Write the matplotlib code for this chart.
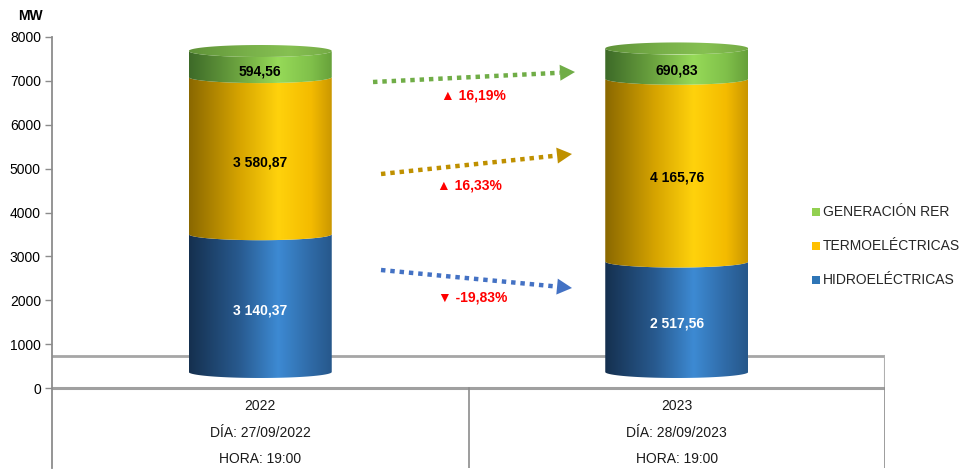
import numpy as np
import matplotlib
matplotlib.use("Agg")
import matplotlib.pyplot as plt
from matplotlib.path import Path
from matplotlib.patches import PathPatch, Polygon
from matplotlib.colors import LinearSegmentedColormap

plt.rcParams['font.family'] = ['Liberation Sans', 'DejaVu Sans']

# ---------------- data ----------------
years = ["2022", "2023"]
dias = ["DÍA: 27/09/2022", "DÍA: 28/09/2023"]
horas = ["HORA: 19:00", "HORA: 19:00"]
series_names = ["HIDROELÉCTRICAS", "TERMOELÉCTRICAS", "GENERACIÓN RER"]
hidro = [3140.37, 2517.56]
termo = [3580.87, 4165.76]
rer = [594.56, 690.83]
value_labels = [["3 140,37", "2 517,56"], ["3 580,87", "4 165,76"], ["594,56", "690,83"]]
pct_labels = ["▼ -19,83%", "▲ 16,33%", "▲ 16,19%"]
yticks = [0, 1000, 2000, 3000, 4000, 5000, 6000, 7000, 8000]

# ---------------- style ----------------
W, H = 969, 470
fig = plt.figure(figsize=(W / 100, H / 100), dpi=100)
ax_l, ax_r, ax_t, ax_b = 52, 885, 37, 468
ax = fig.add_axes([ax_l / W, 1 - ax_b / H, (ax_r - ax_l) / W, (ax_b - ax_t) / H])
px_per_unit = (388 - 37) / 8000.0
ymin = -(ax_b - 388) / px_per_unit
ax.set_xlim(0, 2)
ax.set_ylim(ymin, 8000)

grad = {
    0: [(0.0, "#15304f"), (0.35, "#285a8f"), (0.62, "#3d8ad3"), (0.85, "#2f6aa6"), (1.0, "#26578a")],
    1: [(0.0, "#8a6800"), (0.35, "#d6a400"), (0.62, "#ffd20c"), (0.85, "#f4bb00"), (1.0, "#c99600")],
    2: [(0.0, "#3d6a28"), (0.35, "#6da540"), (0.62, "#96da58"), (0.85, "#80c04a"), (1.0, "#66a03a")],
}
top_grad = [(0.0, "#5f9238"), (0.4, "#78b049"), (0.7, "#86c052"), (1.0, "#74aa45")]
legend_colors = ["#2e75b6", "#ffc000", "#92d050"]
label_colors = ["white", "black", "black"]

depth = 365.0           # bar base raised inside floor
eh = 6.0 / px_per_unit  # ellipse half height in data units
bar_w = 143 / (ax_r - ax_l) * 2
centers = [0.5, 1.5]

# floor
ax.fill_between([0, 2], 0, 730, color="white", zorder=1)
ax.plot([0, 2], [730, 730], color="#a6a6a6", lw=2.0, zorder=1.5)
ax.plot([2, 2], [0, 730], color="#b0b0b0", lw=1.5, zorder=1.5)
ax.plot([0, 2], [0, 0], color="#a0a0a0", lw=2.2, zorder=1.5)
# category dividers
ax.plot([1, 1], [ymin, 0], color="#8c8c8c", lw=1.2, zorder=1.5)
ax.plot([2, 2], [ymin, 0], color="#8c8c8c", lw=1.2, zorder=1.5)

def seg_path(xc, y0, y1):
    t = np.linspace(0, np.pi, 80)
    xs = xc - bar_w / 2 * np.cos(t)
    top = y1 - eh * np.sin(t)
    bot = y0 - eh * np.sin(t)
    verts = np.concatenate([np.column_stack([xs, top]), np.column_stack([xs[::-1], bot[::-1]]), [[xs[0], top[0]]]])
    return Path(verts, closed=True)

def ellipse_path(xc, yc):
    t = np.linspace(0, 2 * np.pi, 120)
    return Path(np.column_stack([xc + bar_w / 2 * np.cos(t), yc + eh * np.sin(t)]), closed=True)

ramp = np.linspace(0, 1, 256).reshape(1, -1)
stack = [hidro, termo, rer]
for i, xc in enumerate(centers):
    base = depth
    for k, vals in enumerate(stack):
        v = vals[i]
        y0, y1 = base, base + v
        patch = PathPatch(seg_path(xc, y0, y1), facecolor="none", edgecolor="none", zorder=3)
        ax.add_patch(patch)
        cmap = LinearSegmentedColormap.from_list("g%d" % k, grad[k])
        im = ax.imshow(ramp, cmap=cmap, aspect="auto",
                       extent=[xc - bar_w / 2, xc + bar_w / 2, y0 - eh * 1.1, y1 + eh],
                       zorder=3, interpolation="bilinear")
        im.set_clip_path(patch)
        ax.text(xc, (y0 + y1) / 2 - 1.2 * eh, value_labels[k][i], ha="center", va="center",
                fontsize=10, fontweight="bold", color=label_colors[k], zorder=5)
        base = y1
    # top face
    epatch = PathPatch(ellipse_path(xc, base), facecolor="none", edgecolor="none", zorder=4)
    ax.add_patch(epatch)
    cmap_top = LinearSegmentedColormap.from_list("top", top_grad)
    im = ax.imshow(ramp, cmap=cmap_top, aspect="auto",
                   extent=[xc - bar_w / 2, xc + bar_w / 2, base - eh, base + eh], zorder=4)
    im.set_clip_path(epatch)

ax.set_xlim(0, 2)
ax.set_ylim(ymin, 8000)

# axes styling
for s in ["top", "right", "bottom"]:
    ax.spines[s].set_visible(False)
ax.spines["left"].set_color("#8c8c8c")
ax.spines["left"].set_linewidth(1.3)
ax.set_xticks([])
ax.set_yticks(yticks)
ax.set_yticklabels([str(t) for t in yticks])
ax.tick_params(axis="y", direction="out", length=5, width=1, color="#8c8c8c", labelsize=10, pad=3)

fig.text(18 / W, 1 - 16 / H, "MW", fontsize=10, fontweight="bold", ha="left", va="center")

# category labels
for i, xc in enumerate(centers):
    for txt, py in zip([years[i], dias[i], horas[i]], [406, 433, 459]):
        fig.text((ax_l + xc / 2 * (ax_r - ax_l)) / W, 1 - py / H, txt, ha="center", va="center",
                 fontsize=10, color="#1a1a1a")

# change arrows (annotations, pixel positions)
def F(px, py):
    return px / W, 1 - py / H

arrows = [((381, 270), (572, 288), "#4472c4"),
          ((381, 174), (572, 154), "#bf9000"),
          ((373, 82), (575, 72), "#70ad47")]
pct_pos = [(473, 298), (469, 185), (473, 95)]
for (s, e, c), lab, pp in zip(arrows, pct_labels, pct_pos):
    s = np.array(s, float); e = np.array(e, float)
    d = (e - s) / np.linalg.norm(e - s)
    nrm = np.array([-d[1], d[0]])
    hl, hw = 15, 8
    b = e - d * hl
    x0, y0 = F(*s); x1, y1 = F(*b)
    fig.add_artist(plt.Line2D([x0, x1], [y0, y1], transform=fig.transFigure, color=c, lw=3.2,
                              linestyle=(0, (1, 1.1)), dash_capstyle="butt"))
    tri = [F(*e), F(*(b + nrm * hw)), F(*(b - nrm * hw))]
    fig.add_artist(Polygon(tri, closed=True, transform=fig.transFigure, facecolor=c, edgecolor="none"))
    fig.text(*F(*pp), lab, ha="center", va="center", fontsize=10, fontweight="bold", color="#ff0000")

# legend
leg_items = [(series_names[2], legend_colors[2], 212), (series_names[1], legend_colors[1], 246),
             (series_names[0], legend_colors[0], 280)]
for name, col, py in leg_items:
    fig.add_artist(plt.Rectangle(F(812, py + 4), 8 / W, 8 / H, transform=fig.transFigure,
                                 facecolor=col, edgecolor="none"))
    fig.text(*F(823, py), name, ha="left", va="center", fontsize=10, color="#262626")

fig.savefig("out.png", dpi=100)
